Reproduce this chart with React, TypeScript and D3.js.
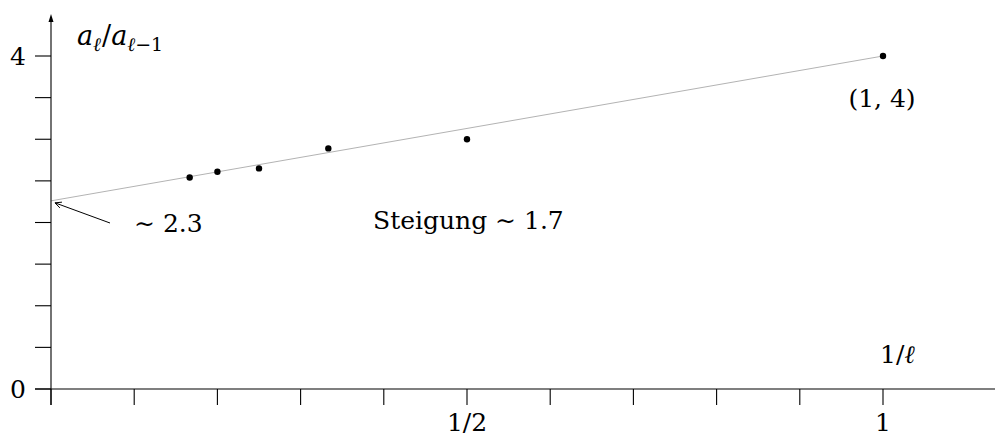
import React from "react";
import * as d3 from "d3";

// reciprocal index 1/l and the measured ratio a_l / a_{l-1}
const invL = [1 / 6, 1 / 5, 1 / 4, 1 / 3, 1 / 2, 1];
const ratios = [2.54, 2.61, 2.65, 2.89, 3.0, 4];
// rough linear fit drawn in grey
const fitX = [0, 1];
const fitY = [2.26, 4];
const xTicks = d3.range(0, 11).map((i) => i / 10);
const yTicks = d3.range(0, 9).map((i) => i / 2);
const xLabels = [
  { v: 0.5, t: "1/2" },
  { v: 1, t: "1" },
];
const yLabels = [
  { v: 0, t: "0" },
  { v: 4, t: "4" },
];

const W = 995;
const H = 443;
const FONT = "'DejaVu Serif', 'Liberation Serif', serif";
const FS = 25;

export default function App() {
  const x = d3.scaleLinear().domain([0, 1]).range([51, 883]);
  const y = d3.scaleLinear().domain([0, 4]).range([389, 56]);
  const line = d3
    .line<number>()
    .x((_, i) => x(fitX[i]))
    .y((d) => y(d));

  const x0 = x(0);
  const y0 = y(0);
  const tipX = x0 + 4;
  const tipY = y(fitY[0]) + 2;
  const tailX = 110;
  const tailY = 223;
  const ang = Math.atan2(tipY - tailY, tipX - tailX);
  const head = (s: number) =>
    `M${tipX + 7 * Math.cos(ang + Math.PI + s)},${tipY + 7 * Math.sin(ang + Math.PI + s)} L${tipX},${tipY} L${
      tipX + 7 * Math.cos(ang + Math.PI - s)
    },${tipY + 7 * Math.sin(ang + Math.PI - s)}`;

  return (
    <svg
      width={W}
      height={H}
      style={{ position: "absolute", left: 0, top: 0, background: "#fff" }}
      fontFamily={FONT}
    >
      {/* fit line */}
      <path d={line(fitY) || ""} fill="none" stroke="#b3b3b3" strokeWidth={1} />

      {/* axes */}
      <line x1={35} x2={W} y1={y0} y2={y0} stroke="#000" strokeWidth={1.1} />
      <line x1={x0} x2={x0} y1={405} y2={17} stroke="#000" strokeWidth={1.1} />
      <path d={`M${x0 - 2.5},${22} L${x0},${14} L${x0 + 2.5},${22} Z`} fill="#000" />

      {yTicks.map((t) => (
        <line key={"yt" + t} x1={35} x2={x0} y1={y(t)} y2={y(t)} stroke="#000" strokeWidth={1.1} />
      ))}
      {xTicks.map((t) => (
        <line key={"xt" + t} x1={x(t)} x2={x(t)} y1={y0} y2={405} stroke="#000" strokeWidth={1.1} />
      ))}

      {yLabels.map((d) => (
        <text key={"yl" + d.t} x={18} y={y(d.v) + 9} fontSize={FS} textAnchor="middle">
          {d.t}
        </text>
      ))}
      {xLabels.map((d) => (
        <text key={"xl" + d.t} x={x(d.v)} y={431} fontSize={FS} textAnchor="middle">
          {d.t}
        </text>
      ))}

      {/* data points */}
      {invL.map((v, i) => (
        <circle key={"p" + i} cx={x(v)} cy={y(ratios[i])} r={3.2} fill="#000" />
      ))}

      {/* arrow to intercept */}
      <line x1={tailX} y1={tailY} x2={tipX} y2={tipY} stroke="#000" strokeWidth={1} />
      <path d={head(0.45)} fill="none" stroke="#000" strokeWidth={1} />

      {/* annotations */}
      <text x={77} y={45} fontSize={27}>
        <tspan fontStyle="italic">a</tspan>
        <tspan fontStyle="italic" fontSize={19} dy={6}>ℓ</tspan>
        <tspan dy={-6} dx={1}>/</tspan>
        <tspan fontStyle="italic">a</tspan>
        <tspan fontSize={19} dy={6}>
          <tspan fontStyle="italic">ℓ</tspan>−1
        </tspan>
      </text>
      <text x={134} y={232} fontSize={FS}>
        ∼ 2.3
      </text>
      <text x={373} y={229} fontSize={FS}>
        Steigung ∼ 1.7
      </text>
      <text x={882} y={107} fontSize={FS} textAnchor="middle">
        (1, 4)
      </text>
      <text x={880} y={363} fontSize={FS}>
        1/<tspan fontStyle="italic">ℓ</tspan>
      </text>
    </svg>
  );
}
